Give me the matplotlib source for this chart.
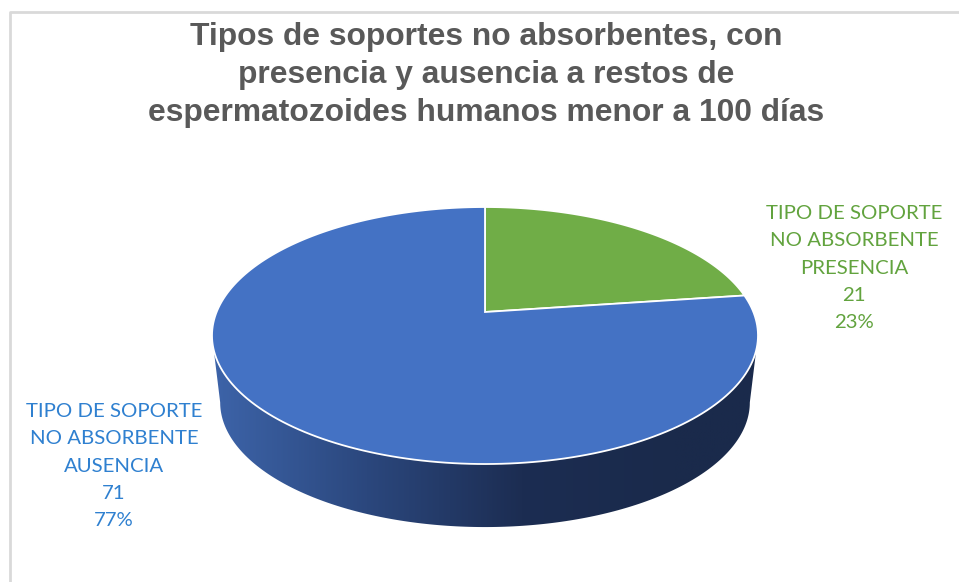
import numpy as np
import matplotlib.pyplot as plt
from matplotlib.patches import Polygon
from matplotlib.colors import LinearSegmentedColormap

title = ("Tipos de soportes no absorbentes, con\n"
         "presencia y ausencia a restos de\n"
         "espermatozoides humanos menor a 100 días")
categories = ["TIPO DE SOPORTE\nNO ABSORBENTE\nPRESENCIA",
              "TIPO DE SOPORTE\nNO ABSORBENTE\nAUSENCIA"]
values = [21, 71]
slice_colors = ["#70ad47", "#4472c4"]
label_colors = ["#62a33e", "#2f80d0"]

W, H = 959, 582
fig = plt.figure(figsize=(W / 100, H / 100), dpi=100)
ax = fig.add_axes([0, 0, 1, 1])
ax.axis('off')

# light grey chart frame (cut at right/bottom)
ax.plot([10, 10, W + 5], [H + 5, 12, 12], color='#d9d9d9', lw=2, solid_capstyle='butt')

# pie geometry in pixels, simple perspective tilt
cx, cy = 485, 312
k = 0.183
a, c = 268.4, 124.2
depth = 67.6
shrink = 0.97


def project(theta, oy=cy, s=1.0):
    u, v = np.cos(theta), np.sin(theta)
    w = 1 + k * v
    return cx + s * a * u / w, oy - s * c * v / w


# side of the cylinder (front half only is visible)
tl = np.pi + np.arcsin(k)
tr = 2 * np.pi - np.arcsin(k)
th = np.linspace(tl, tr, 200)
x1, y1 = project(th)
x2, y2 = project(th[::-1], oy=cy + depth, s=shrink)
side = Polygon(np.column_stack([np.r_[x1, x2], np.r_[y1, y2]]), closed=True,
               facecolor='none', edgecolor='none')
ax.add_patch(side)
grad_cmap = LinearSegmentedColormap.from_list('side', ['#3d64a9', '#2b477d', '#1c2d52', '#1a2a4b'])
xs = np.linspace(0, 1, 400)
grad = np.clip(xs / 0.85, 0, 1)[None, :]
im = ax.imshow(grad, cmap=grad_cmap, aspect='auto',
               extent=(x1.min(), x1.max(), y2.max() + 2, y1.min()), zorder=1)
im.set_clip_path(side)

# top surface wedges, clockwise from 12 o'clock
total = sum(values)
t0 = np.pi / 2
for val, col in zip(values, slice_colors):
    t1 = t0 - 2 * np.pi * val / total
    tt = np.linspace(t0, t1, 200)
    px, py = project(tt)
    wedge = Polygon(np.column_stack([np.r_[cx, px], np.r_[cy, py]]), closed=True,
                    facecolor=col, edgecolor='white', lw=1.3, zorder=2)
    ax.add_patch(wedge)
    t0 = t1

# data labels
label_pos = [(854, 268), (114, 466)]
for cat, val, col, (lx, ly) in zip(categories, values, label_colors, label_pos):
    pct = round(100 * val / total)
    ax.text(lx, ly, f"{cat}\n{val}\n{pct}%", ha='center', va='center',
            fontsize=14.7, color=col, family='Lato', linespacing=1.74)

ax.text(486, 75, title, ha='center', va='center', fontsize=22.9, fontweight='bold',
        color='#595959', family='Liberation Sans', linespacing=1.33)

ax.set_xlim(0, W)
ax.set_ylim(H, 0)
fig.savefig('out.png', dpi=100, facecolor='white')
